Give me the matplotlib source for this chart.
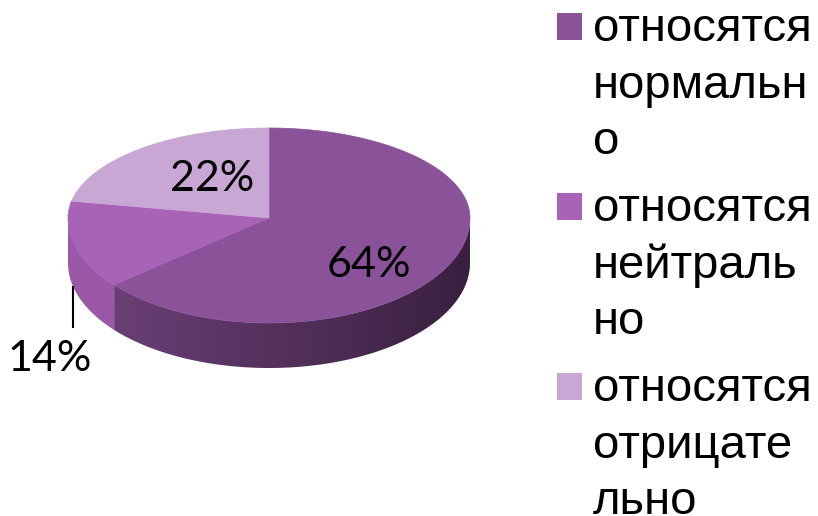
import numpy as np
import matplotlib
matplotlib.use("Agg")
import matplotlib.pyplot as plt
from matplotlib.patches import Polygon, Rectangle
from matplotlib.colors import LinearSegmentedColormap

# data
shares = [64, 14, 22]
labels = ["относятся\nнормальн\nо", "относятся\nнейтраль\nно", "относятся\nотрицате\nльно"]
pct_labels = ["64%", "14%", "22%"]
top_colors = ["#8a5299", "#a862b7", "#c9a7d4"]
side_colors = [("#70437c", "#39203f"), ("#9a58a7", "#9a58a7"), ("#b08cbc", "#b08cbc")]

# pie geometry in pixel space
cx, cy = 269, 218
a, b_back, b_front = 201, 90, 105
depth = 45


def rim(t):
    t = np.radians(t)
    s = np.sin(t)
    y = np.where(s > 0, cy - b_back * s, cy - b_front * s)
    return cx + a * np.cos(t), y


fig = plt.figure(figsize=(8.18, 5.16), dpi=100)
ax = fig.add_axes([0, 0, 1, 1])
ax.set_xlim(0, 818)
ax.set_ylim(516, 0)
ax.axis("off")

# slice angles, clockwise from 12 o'clock
bounds = 90 - 360 * np.cumsum([0] + shares) / sum(shares)

# side walls: only the front half (-180..0 deg) is visible
for i in range(len(shares)):
    for off in (0, -360, 360):
        l = max(bounds[i + 1] + off, -180)
        h = min(bounds[i] + off, 0)
        if h <= l:
            continue
        ts = np.linspace(l, h, 100)
        xs, ys = rim(ts)
        pts = np.column_stack([np.r_[xs, xs[::-1]], np.r_[ys, ys[::-1] + depth]])
        wall = Polygon(pts, closed=True, facecolor="none", edgecolor="none")
        ax.add_patch(wall)
        cmap = LinearSegmentedColormap.from_list("side%d" % i, side_colors[i])
        grad = np.linspace(0, 1, 256).reshape(1, -1)
        im = ax.imshow(grad, cmap=cmap, aspect="auto",
                       extent=[cx - a, cx + a, cy + b_front + depth + 2, cy - 5],
                       interpolation="bilinear", zorder=1)
        im.set_clip_path(wall)

# top faces
for i in range(len(shares)):
    ts = np.linspace(bounds[i], bounds[i + 1], 120)
    xs, ys = rim(ts)
    pts = np.column_stack([np.r_[cx, xs], np.r_[cy, ys]])
    ax.add_patch(Polygon(pts, closed=True, facecolor=top_colors[i],
                         edgecolor=top_colors[i], lw=0.5, zorder=2))

ax.set_xlim(0, 818)
ax.set_ylim(516, 0)

# percent labels
pfont = dict(family="Lato", fontsize=31, color="black", ha="center", va="baseline", zorder=3)
ax.text(369, 277, pct_labels[0], **pfont)
ax.text(212, 191, pct_labels[2], **pfont)
ax.text(50, 371, pct_labels[1], **pfont)
ax.plot([73, 73], [287, 327], color="black", lw=1.5, zorder=3)

# legend
first_base, line_step, entry_step = 41, 56.5, 180
for i, lab in enumerate(labels):
    base = first_base + i * entry_step
    ax.add_patch(Rectangle((557, base - 28), 25, 27, facecolor=top_colors[i], edgecolor="none"))
    for j, line in enumerate(lab.split("\n")):
        ax.text(593, base + j * line_step, line, family="Liberation Sans", fontsize=34,
                color="black", ha="left", va="baseline")

fig.savefig("out.png", dpi=100)
